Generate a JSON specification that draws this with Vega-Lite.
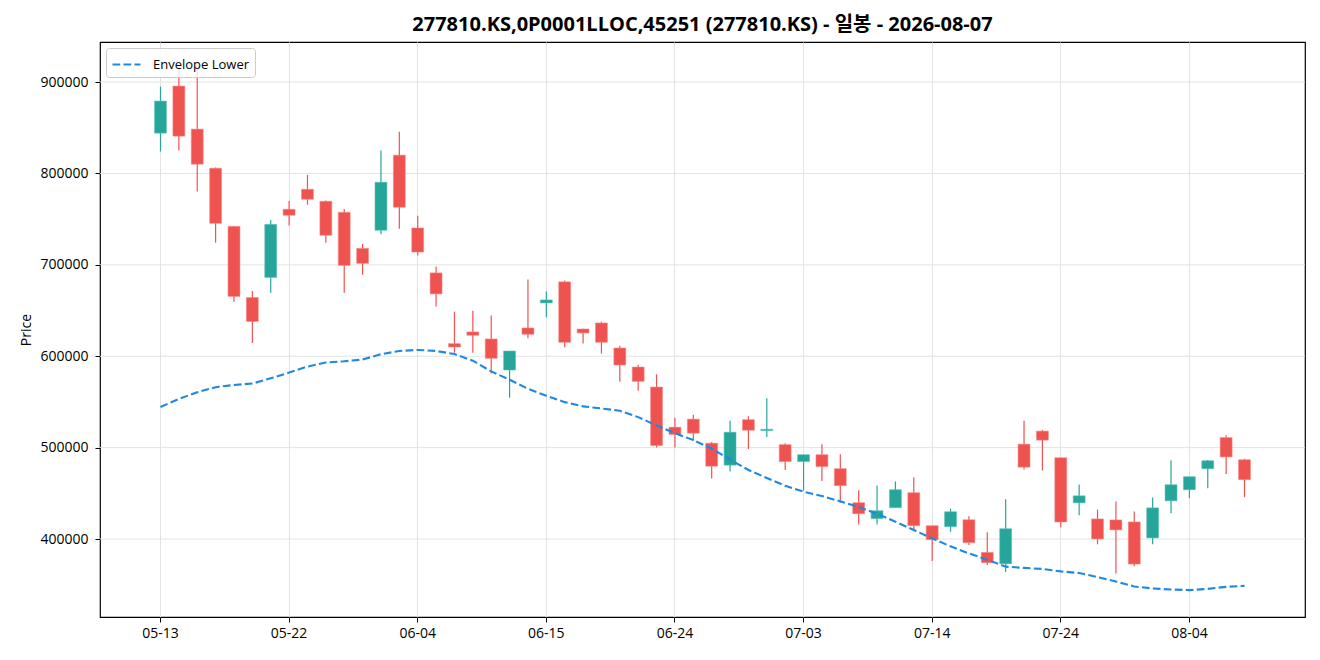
{
  "$schema": "https://vega.github.io/schema/vega-lite/v6.json",
  "width": 1205,
  "height": 575,
  "autosize": {"type": "none"},
  "padding": {"left": 100, "top": 42, "right": 15, "bottom": 43},
  "background": "white",
  "title": {
    "text": "277810.KS,0P0001LLOC,45251 (277810.KS) - 일봉 - 2026-08-07",
    "font": "Open Sans, Noto Sans CJK KR",
    "fontSize": 20,
    "fontWeight": "bold",
    "color": "#000000",
    "anchor": "middle",
    "offset": 7
  },
  "config": {
    "view": {"stroke": "#000000", "strokeWidth": 1.2},
    "axis": {
      "labelFont": "Open Sans",
      "labelFontSize": 14,
      "labelColor": "#000000",
      "titleFont": "Open Sans",
      "titleFontSize": 14,
      "titleFontWeight": "normal",
      "titleColor": "#000000",
      "tickColor": "#000000",
      "tickSize": 5,
      "gridColor": "#e3e3e3",
      "gridWidth": 1,
      "domain": false
    },
    "legend": {
      "labelFont": "Open Sans",
      "labelFontSize": 13,
      "labelColor": "#000000"
    }
  },
  "datasets": {
    "grid": [
      {"price": 400000}, {"price": 500000}, {"price": 600000},
      {"price": 700000}, {"price": 800000}, {"price": 900000}
    ],
    "ohlc": [
      {"date": "2026-05-13", "open": 844100, "high": 894900, "low": 824000, "close": 879200, "env_lower": 544500},
      {"date": "2026-05-14", "open": 895600, "high": 914000, "low": 825100, "close": 840800, "env_lower": 553300},
      {"date": "2026-05-15", "open": 848500, "high": 914000, "low": 780200, "close": 810100, "env_lower": 560600},
      {"date": "2026-05-18", "open": 805700, "high": 806500, "low": 724200, "close": 745400, "env_lower": 566100},
      {"date": "2026-05-19", "open": 742100, "high": 742500, "low": 659600, "close": 665400, "env_lower": 568600},
      {"date": "2026-05-20", "open": 664300, "high": 671300, "low": 614600, "close": 638000, "env_lower": 570100},
      {"date": "2026-05-21", "open": 686200, "high": 749100, "low": 669400, "close": 744300, "env_lower": 575900},
      {"date": "2026-05-22", "open": 760800, "high": 769900, "low": 742900, "close": 754200, "env_lower": 582100},
      {"date": "2026-05-26", "open": 782700, "high": 798400, "low": 765900, "close": 771700, "env_lower": 588700},
      {"date": "2026-05-27", "open": 769600, "high": 770300, "low": 724200, "close": 732300, "env_lower": 593100},
      {"date": "2026-05-28", "open": 757500, "high": 761200, "low": 669400, "close": 699400, "env_lower": 594500},
      {"date": "2026-05-29", "open": 718000, "high": 722800, "low": 689200, "close": 701600, "env_lower": 596400},
      {"date": "2026-06-01", "open": 737800, "high": 825100, "low": 733400, "close": 790400, "env_lower": 602200},
      {"date": "2026-06-02", "open": 820000, "high": 845600, "low": 739600, "close": 763000, "env_lower": 605800},
      {"date": "2026-06-04", "open": 740300, "high": 753800, "low": 710300, "close": 714000, "env_lower": 606900},
      {"date": "2026-06-05", "open": 691200, "high": 698200, "low": 654300, "close": 668200, "env_lower": 605800},
      {"date": "2026-06-08", "open": 613800, "high": 648800, "low": 603900, "close": 610100, "env_lower": 602400},
      {"date": "2026-06-09", "open": 626600, "high": 649900, "low": 603900, "close": 622900, "env_lower": 595100},
      {"date": "2026-06-10", "open": 618900, "high": 644500, "low": 581200, "close": 597700, "env_lower": 583400},
      {"date": "2026-06-11", "open": 584900, "high": 605700, "low": 554600, "close": 605700, "env_lower": 574300},
      {"date": "2026-06-12", "open": 630900, "high": 683900, "low": 619600, "close": 624000, "env_lower": 564400},
      {"date": "2026-06-15", "open": 658300, "high": 670800, "low": 642600, "close": 661600, "env_lower": 556800},
      {"date": "2026-06-16", "open": 681400, "high": 682800, "low": 609700, "close": 615200, "env_lower": 549800},
      {"date": "2026-06-17", "open": 629800, "high": 630200, "low": 613800, "close": 625500, "env_lower": 545100},
      {"date": "2026-06-18", "open": 636400, "high": 637900, "low": 602800, "close": 615200, "env_lower": 542900},
      {"date": "2026-06-19", "open": 609000, "high": 611600, "low": 572100, "close": 590400, "env_lower": 540300},
      {"date": "2026-06-22", "open": 588200, "high": 590700, "low": 562200, "close": 572500, "env_lower": 533400},
      {"date": "2026-06-23", "open": 566300, "high": 580100, "low": 500100, "close": 502300, "env_lower": 524200},
      {"date": "2026-06-24", "open": 522400, "high": 532600, "low": 500100, "close": 514400, "env_lower": 515800},
      {"date": "2026-06-25", "open": 531200, "high": 535900, "low": 507400, "close": 515800, "env_lower": 508200},
      {"date": "2026-06-26", "open": 504900, "high": 506300, "low": 466100, "close": 479700, "env_lower": 499000},
      {"date": "2026-06-29", "open": 480800, "high": 529400, "low": 473800, "close": 516900, "env_lower": 487000},
      {"date": "2026-06-30", "open": 530600, "high": 534300, "low": 498500, "close": 519000, "env_lower": 475500},
      {"date": "2026-07-01", "open": 518600, "high": 554000, "low": 511700, "close": 520100, "env_lower": 466800},
      {"date": "2026-07-02", "open": 503300, "high": 504700, "low": 475500, "close": 484700, "env_lower": 458400},
      {"date": "2026-07-03", "open": 484700, "high": 492300, "low": 452900, "close": 492300, "env_lower": 451800},
      {"date": "2026-07-06", "open": 492300, "high": 503600, "low": 463500, "close": 479200, "env_lower": 447100},
      {"date": "2026-07-07", "open": 477000, "high": 492700, "low": 440100, "close": 458400, "env_lower": 441200},
      {"date": "2026-07-08", "open": 439800, "high": 453300, "low": 416000, "close": 427700, "env_lower": 435000},
      {"date": "2026-07-09", "open": 422300, "high": 458700, "low": 416000, "close": 431000, "env_lower": 427700},
      {"date": "2026-07-10", "open": 434300, "high": 463100, "low": 434300, "close": 454000, "env_lower": 419000},
      {"date": "2026-07-13", "open": 450700, "high": 467500, "low": 409500, "close": 414600, "env_lower": 409800},
      {"date": "2026-07-14", "open": 414600, "high": 414600, "low": 375900, "close": 399300, "env_lower": 400700},
      {"date": "2026-07-15", "open": 413500, "high": 433200, "low": 408000, "close": 429900, "env_lower": 392000},
      {"date": "2026-07-16", "open": 421100, "high": 424800, "low": 393400, "close": 396000, "env_lower": 384300},
      {"date": "2026-07-20", "open": 385400, "high": 407300, "low": 371500, "close": 374100, "env_lower": 377300},
      {"date": "2026-07-21", "open": 372900, "high": 443400, "low": 363800, "close": 411300, "env_lower": 369800},
      {"date": "2026-07-22", "open": 503800, "high": 529400, "low": 476000, "close": 478600, "env_lower": 368400},
      {"date": "2026-07-23", "open": 518100, "high": 519400, "low": 475000, "close": 508200, "env_lower": 367300},
      {"date": "2026-07-24", "open": 489000, "high": 489000, "low": 412900, "close": 418700, "env_lower": 364600},
      {"date": "2026-07-27", "open": 439600, "high": 459700, "low": 426100, "close": 447300, "env_lower": 362800},
      {"date": "2026-07-28", "open": 422000, "high": 432300, "low": 394200, "close": 400100, "env_lower": 358400},
      {"date": "2026-07-29", "open": 420900, "high": 441100, "low": 362400, "close": 410000, "env_lower": 353600},
      {"date": "2026-07-30", "open": 418700, "high": 430100, "low": 370100, "close": 372600, "env_lower": 348100},
      {"date": "2026-07-31", "open": 401200, "high": 445500, "low": 394200, "close": 434100, "env_lower": 345900},
      {"date": "2026-08-03", "open": 441800, "high": 486100, "low": 428300, "close": 459400, "env_lower": 344800},
      {"date": "2026-08-04", "open": 453900, "high": 468200, "low": 444700, "close": 468200, "env_lower": 344100},
      {"date": "2026-08-05", "open": 476900, "high": 486500, "low": 455700, "close": 485700, "env_lower": 345500},
      {"date": "2026-08-06", "open": 511000, "high": 513500, "low": 471100, "close": 489800, "env_lower": 347700},
      {"date": "2026-08-07", "open": 486800, "high": 487900, "low": 445800, "close": 464900, "env_lower": 348800}
    ]
  },
  "layer": [
    {
      "data": {"name": "grid"},
      "mark": {"type": "rule", "color": "#e3e3e3", "strokeWidth": 1},
      "encoding": {
        "y": {
          "field": "price",
          "type": "quantitative",
          "scale": {"domain": [314700, 943800], "nice": false, "zero": false},
          "axis": {
            "values": [400000, 500000, 600000, 700000, 800000, 900000],
            "format": "d",
            "title": "Price",
            "labelPadding": 7,
            "titlePadding": 6,
            "grid": false
          }
        }
      }
    },
    {
      "data": {"name": "ohlc"},
      "encoding": {
        "x": {
          "field": "date",
          "type": "ordinal",
          "scale": {"paddingInner": 0, "paddingOuter": 0, "range": [51.3, 1153.7]},
          "axis": {
            "values": ["2026-05-13", "2026-05-22", "2026-06-04", "2026-06-15", "2026-06-24", "2026-07-03", "2026-07-14", "2026-07-24", "2026-08-04"],
            "labelExpr": "substring(datum.value, 5)",
            "labelAngle": 0,
            "labelPadding": 4,
            "bandPosition": 0.5,
            "grid": true,
            "title": null
          }
        }
      },
      "layer": [
        {
          "mark": {"type": "rule", "strokeWidth": 1.2},
          "encoding": {
            "y": {"field": "low", "type": "quantitative"},
            "y2": {"field": "high"},
            "color": {
              "condition": {"test": "datum.close >= datum.open", "value": "#26a69a"},
              "value": "#ef5350"
            }
          }
        },
        {
          "mark": {"type": "bar", "width": {"band": 0.65}, "strokeWidth": 1, "strokeOpacity": 0.55},
          "encoding": {
            "y": {"field": "open", "type": "quantitative"},
            "y2": {"field": "close"},
            "color": {
              "condition": {"test": "datum.close >= datum.open", "value": "#26a69a"},
              "value": "#ef5350"
            },
            "stroke": {
              "condition": {"test": "datum.close >= datum.open", "value": "#5cc2b8"},
              "value": "#f58a88"
            }
          }
        },
        {
          "mark": {"type": "line", "strokeWidth": 2.1, "strokeDash": [7.7, 3.3]},
          "encoding": {
            "y": {"field": "env_lower", "type": "quantitative"},
            "color": {
              "datum": "Envelope Lower",
              "scale": {"range": ["#1e88e5"]},
              "legend": {
                "title": null,
                "orient": "top-left",
                "offset": 6,
                "symbolType": "M-1,0H1.8",
                "symbolSize": 400,
                "symbolStrokeWidth": 2.1,
                "symbolDash": [7.7, 3.3],
                "labelOffset": 19,
                "fillColor": "rgba(255,255,255,0.8)",
                "strokeColor": "#cccccc",
                "cornerRadius": 3,
                "padding": 5
              }
            }
          }
        }
      ]
    }
  ]
}
